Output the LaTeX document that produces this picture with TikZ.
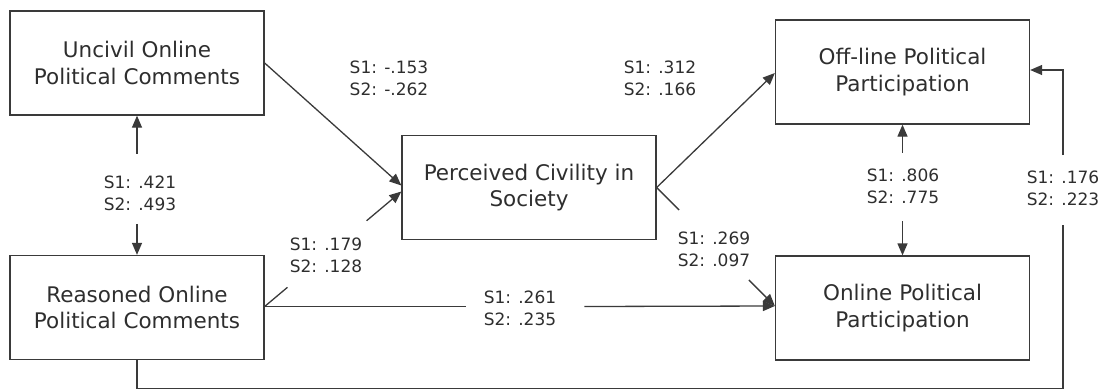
\documentclass[tikz,border=0pt]{standalone}
\usepackage{fontspec}
\setmainfont{DejaVu Sans}
\usetikzlibrary{arrows.meta,calc}
\definecolor{ln}{HTML}{3A3A3A}
\definecolor{tx}{HTML}{2E2E2E}
\tikzset{
  box/.style={draw=ln,line width=1.3pt,minimum width=254pt,minimum height=104pt,align=center,
    text=tx,font=\fontsize{21.5}{26.5}\selectfont,inner sep=0pt},
  lab/.style={align=center,text=tx,font=\fontsize{17}{22}\selectfont,inner sep=0pt},
  con/.style={draw=ln,line width=1.3pt},
  arr/.style={con,-{Triangle[length=12pt,width=10pt]}},
}
\begin{document}
\begin{tikzpicture}[x=1pt,y=-1pt]
\useasboundingbox (0,0) rectangle (1105,389);
% boxes
\node[box] (unc) at (137,63) {Uncivil Online\\Political Comments};
\node[box] (rea) at (137,307.5) {Reasoned Online\\Political Comments};
\node[box] (per) at (529,187.5) {Perceived Civility in\\Society};
\node[box] (off) at (902.5,72) {Off-line Political\\Participation};
\node[box] (onl) at (902.5,308) {Online Political\\Participation};
% labels
\node[lab] (l1) at (389,78) {S1: -.153\\S2: -.262};
\node[lab] (l2) at (660,78) {S1: .312\\S2: .166};
\node[lab] (l3) at (140,193) {S1: .421\\S2: .493};
\node[lab] (l4) at (326,255) {S1: .179\\S2: .128};
\node[lab] (l5) at (520,308) {S1: .261\\S2: .235};
\node[lab] (l6) at (714,249) {S1: .269\\S2: .097};
\node[lab] (l7) at (903,186) {S1: .806\\S2: .775};
\node[lab] (l8) at (1063,188) {S1: .176\\S2: .223};
% coordinates
\coordinate (pw1) at ($(per.west)+(0,-2)$);
\coordinate (pw2) at ($(per.west)+(0,4)$);
\coordinate (re) at ($(rea.east)+(0,-1)$);
\coordinate (pe) at (per.east);
\coordinate (oe) at ($(off.east)+(0,-2)$);
\coordinate (ow) at ($(off.west)+(0,1)$);
\coordinate (nw) at ($(onl.west)+(0,-2)$);
% connectors
\draw[arr] (unc.east) -- (pw1);
\draw[con] (re) -- ($(re)!0.167!(pw2)$);
\draw[arr] ($(re)!0.746!(pw2)$) -- (pw2);
\draw[con] (re) -- ($(re -| l5.west)+(-18,0)$);
\draw[arr] ($(re -| l5.east)+(28,0)$) -- (nw);
\draw[arr] (pe) -- (ow);
\draw[con] (pe) -- ($(pe)!0.19!(nw)$);
\draw[arr] ($(pe)!0.78!(nw)$) -- (nw);
\draw[arr] ($(unc.south)+(0,38)$) -- (unc.south);
\draw[arr] ($(rea.north)+(0,-31)$) -- (rea.north);
\draw[arr] ($(off.south)+(0,28)$) -- (off.south);
\draw[arr] ($(onl.north)+(0,-34)$) -- (onl.north);
\draw[con] (rea.south) -- ++(0,28) coordinate (b1) -- (b1 -| l8) -- ++(0,-163);
\draw[arr] ($(l8)+(0,-33)$) -- (oe -| l8) -- (oe);
\end{tikzpicture}
\end{document}
